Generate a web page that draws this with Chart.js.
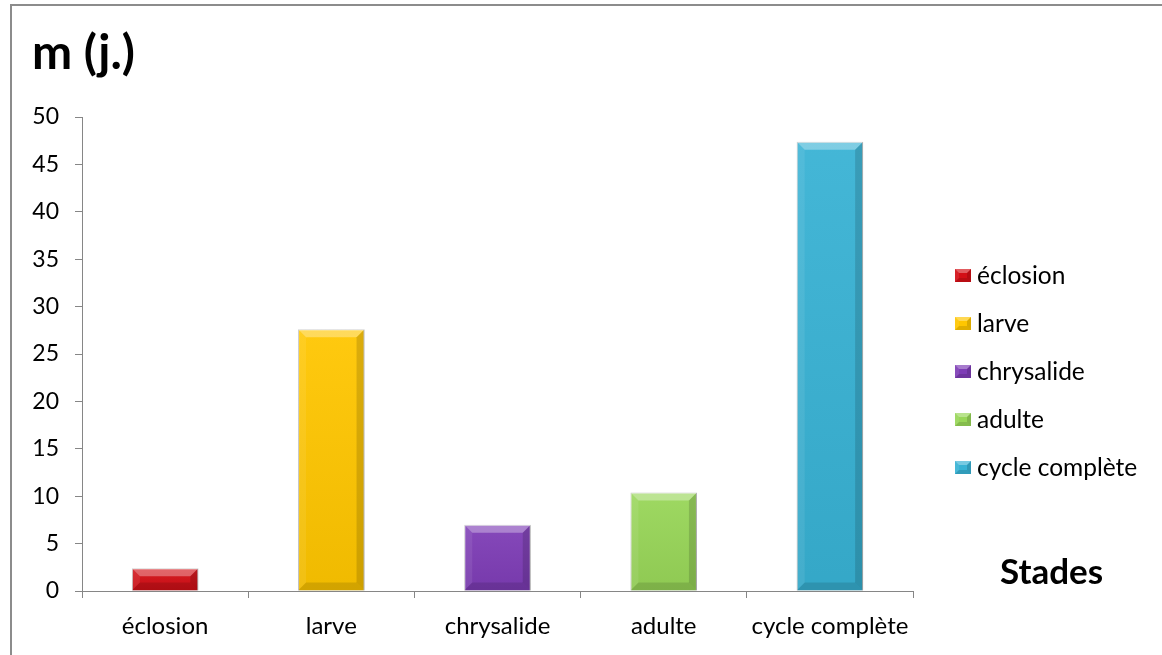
<!DOCTYPE html>
<html>
<head>
<meta charset="utf-8">
<script src="https://cdn.jsdelivr.net/npm/chart.js@4.4.1/dist/chart.umd.min.js"></script>
<style>
  html, body { margin: 0; padding: 0; background: #ffffff; }
  #wrap { position: relative; width: 1162px; height: 655px; overflow: hidden; }
  #frame { position: absolute; left: 10px; top: 4px; width: 1200px; height: 700px;
           border-top: 2px solid #8c8c8c; border-left: 2px solid #8c8c8c; }
  canvas { position: absolute; left: 0; top: 0; }
</style>
</head>
<body>
<div id="wrap">
  <div id="frame"></div>
  <canvas id="c" width="1162" height="655"></canvas>
</div>
<script>
// Durée moyenne (en jours) de chaque stade
const categories = ['éclosion', 'larve', 'chrysalide', 'adulte', 'cycle complète'];
const durations = [2.4, 27.6, 7.0, 10.4, 47.4];
const yMin = 0;
const yMax = 50;
const yStep = 5;
const barColors = ['#d30f16', '#ffc600', '#7e3db6', '#98d658', '#38b2d4'];
const yTitle = 'm (j.)';
const xTitle = 'Stades';

const FONT = 'Lato, "Open Sans", sans-serif';
const AXIS_GREY = '#868686';

// Draws a bevelled block (light top face, shaded sides)
function bevel(ctx, left, top, right, bottom, b) {
  const poly = (pts, fill) => {
    ctx.beginPath();
    ctx.moveTo(pts[0][0], pts[0][1]);
    for (let i = 1; i < pts.length; i++) ctx.lineTo(pts[i][0], pts[i][1]);
    ctx.closePath();
    ctx.fillStyle = fill;
    ctx.fill();
  };
  poly([[left, top], [right, top], [right - b, top + b], [left + b, top + b]], 'rgba(255,255,255,0.32)');
  poly([[left, top], [left + b, top + b], [left + b, bottom - b], [left, bottom]], 'rgba(255,255,255,0.08)');
  poly([[right, top], [right, bottom], [right - b, bottom - b], [right - b, top + b]], 'rgba(0,0,0,0.14)');
  poly([[left, bottom], [right, bottom], [right - b, bottom - b], [left + b, bottom - b]], 'rgba(0,0,0,0.12)');
}

const bevelPlugin = {
  id: 'bevelBars',
  afterDatasetsDraw(chart) {
    const ctx = chart.ctx;
    const meta = chart.getDatasetMeta(0);
    ctx.save();
    meta.data.forEach((el) => {
      const p = el.getProps(['x', 'y', 'base', 'width'], true);
      const left = p.x - p.width / 2, right = p.x + p.width / 2;
      const top = Math.min(p.y, p.base), bottom = Math.max(p.y, p.base);
      // soft vertical shading, slightly darker towards the base
      const g = ctx.createLinearGradient(0, top, 0, bottom);
      g.addColorStop(0, 'rgba(255,255,255,0.06)');
      g.addColorStop(1, 'rgba(0,0,0,0.06)');
      ctx.fillStyle = g;
      ctx.fillRect(left, top, right - left, bottom - top);
      const b = Math.min(8, (bottom - top) / 2);
      bevel(ctx, left, top, right, bottom, b);
    });
    ctx.restore();
  }
};

// Legend on the right plus the two axis titles
const annotations = {
  id: 'annotations',
  afterDraw(chart) {
    const ctx = chart.ctx;
    ctx.save();
    ctx.textBaseline = 'middle';
    ctx.textAlign = 'left';
    ctx.font = '24.5px ' + FONT;
    categories.forEach((name, i) => {
      const cy = 276 + i * 48;
      ctx.fillStyle = barColors[i];
      ctx.fillRect(955, cy - 7, 16, 13);
      bevel(ctx, 955, cy - 7, 971, cy + 6, 4);
      ctx.fillStyle = '#000000';
      ctx.fillText(name, 977, cy);
    });
    ctx.font = 'bold 48px ' + FONT;
    ctx.textBaseline = 'alphabetic';
    ctx.fillText(yTitle, 32, 69);
    ctx.font = 'bold 35px ' + FONT;
    ctx.textBaseline = 'middle';
    ctx.fillText(xTitle, 1000, 573);
    ctx.restore();
  }
};

new Chart(document.getElementById('c'), {
  type: 'bar',
  data: {
    labels: categories,
    datasets: [{
      data: durations,
      backgroundColor: barColors,
      borderColor: 'rgba(120,120,120,0.45)',
      borderWidth: 1,
      barPercentage: 0.4,
      categoryPercentage: 1.0
    }]
  },
  options: {
    responsive: false,
    animation: false,
    layout: { padding: { top: 117, right: 249, left: 0, bottom: 0 } },
    plugins: { legend: { display: false }, tooltip: { enabled: false } },
    scales: {
      x: {
        grid: { drawOnChartArea: false, drawTicks: true, tickLength: 7, color: AXIS_GREY, offset: true },
        border: { color: AXIS_GREY, width: 1 },
        ticks: { color: '#000000', font: { family: FONT, size: 24 }, padding: 14, maxRotation: 0, autoSkip: false },
        afterFit(scale) { scale.height = 64; }
      },
      y: {
        min: yMin,
        max: yMax,
        grid: { drawOnChartArea: false, drawTicks: true, tickLength: 7, color: AXIS_GREY },
        border: { color: AXIS_GREY, width: 1 },
        ticks: { stepSize: yStep, color: '#000000', font: { family: FONT, size: 23 }, padding: 16 },
        afterFit(scale) { scale.width = 82; }
      }
    }
  },
  plugins: [bevelPlugin, annotations]
});
</script>
</body>
</html>
